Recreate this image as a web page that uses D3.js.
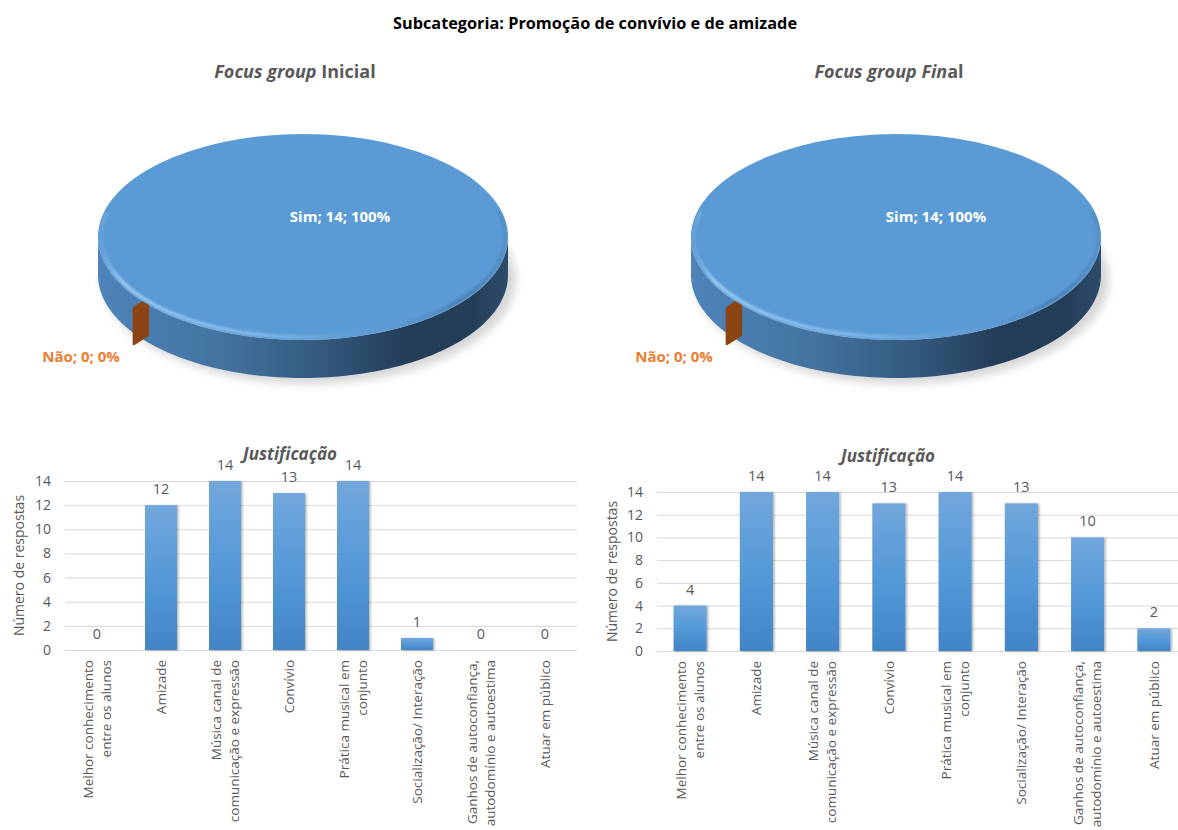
<!DOCTYPE html>
<html>
<head>
<meta charset="utf-8">
<script src="https://cdn.jsdelivr.net/npm/d3@7"></script>
<style>
  html, body { margin: 0; padding: 0; background: #fff; }
  svg { display: block; font-family: "Open Sans", "Liberation Sans", sans-serif; }
</style>
</head>
<body>
<svg id="chart" width="1178" height="830"></svg>
<script>
// ---- data ----
const mainTitle = "Subcategoria: Promoção de convívio e de amizade";
const pieLabels = ["Sim", "Não"];
const pieInicial = [14, 0];
const pieFinal = [14, 0];
const categories = [
  "Melhor conhecimento\nentre os alunos",
  "Amizade",
  "Música canal de\ncomunicação e expressão",
  "Convívio",
  "Prática musical em\nconjunto",
  "Socialização/ Interação",
  "Ganhos de autoconfiança,\nautodomínio e autoestima",
  "Atuar em público"
];
const valuesInicial = [0, 12, 14, 13, 14, 1, 0, 0];
const valuesFinal = [4, 14, 14, 13, 14, 13, 10, 2];
const yTicks = [0, 2, 4, 6, 8, 10, 12, 14];
const barTitle = "Justificação";
const yTitle = "Número de respostas";

// ---- setup ----
const svg = d3.select("#chart");
const defs = svg.append("defs");
const textGray = "#595959";
const pieColors = ["#5b9bd5", "#8b4513"];
const labelColors = ["#ffffff", "#ed7d31"];

// gradients & filters
const barGrad = defs.append("linearGradient").attr("id", "barGrad")
  .attr("x1", 0).attr("y1", 0).attr("x2", 0).attr("y2", 1);
barGrad.append("stop").attr("offset", "0%").attr("stop-color", "#72a7dc");
barGrad.append("stop").attr("offset", "50%").attr("stop-color", "#5599d8");
barGrad.append("stop").attr("offset", "100%").attr("stop-color", "#4285c7");

const barShadow = defs.append("filter").attr("id", "barShadow")
  .attr("x", "-20%").attr("y", "-10%").attr("width", "150%").attr("height", "130%");
barShadow.append("feDropShadow").attr("dx", 1.5).attr("dy", 0.5).attr("stdDeviation", 1)
  .attr("flood-color", "#000").attr("flood-opacity", 0.3);

const pieShadow = defs.append("filter").attr("id", "pieShadow")
  .attr("x", "-20%").attr("y", "-40%").attr("width", "140%").attr("height", "180%");
pieShadow.append("feGaussianBlur").attr("stdDeviation", 5);

const bevelBlur = defs.append("filter").attr("id", "bevelBlur")
  .attr("x", "-10%").attr("y", "-10%").attr("width", "120%").attr("height", "120%");
bevelBlur.append("feGaussianBlur").attr("stdDeviation", 1);

// main title
svg.append("text")
  .attr("x", 595).attr("y", 29)
  .attr("text-anchor", "middle")
  .attr("font-size", 16.3).attr("font-weight", 700).attr("fill", "#000")
  .text(mainTitle);

// ---- 3D pie ----
function drawPie(cfg) {
  const { cx, cy, rx, ry, depth, values, titleItalic, titleNormal, titleX, simLabel, naoLabel, id } = cfg;
  const g = svg.append("g");

  // title
  const t = g.append("text")
    .attr("x", titleX).attr("y", 78)
    .attr("text-anchor", "middle")
    .attr("font-size", 18).attr("font-weight", 700).attr("fill", textGray);
  t.append("tspan").attr("font-style", "italic").text(titleItalic);
  t.append("tspan").text(titleNormal);

  // pie angles: the zero slice sits on the lower-left rim
  const cut = 4.03;
  const pie = d3.pie().sort(null).value(d => d)
    .startAngle(cut - 2 * Math.PI).endAngle(cut);
  const arcs = pie(values);

  const px = a => cx + rx * Math.sin(a);
  const py = a => cy - ry * Math.cos(a);

  // side gradient
  const sg = defs.append("linearGradient").attr("id", "side" + id)
    .attr("gradientUnits", "userSpaceOnUse")
    .attr("x1", cx - rx).attr("y1", 0).attr("x2", cx + rx).attr("y2", 0);
  [["0%", "#4e84bb"], ["30%", "#43739f"], ["55%", "#33597f"], ["75%", "#233d56"], ["92%", "#243f58"], ["100%", "#2d4c6b"]]
    .forEach(([o, c]) => sg.append("stop").attr("offset", o).attr("stop-color", c));

  // soft shadow
  g.append("ellipse")
    .attr("cx", cx + 6).attr("cy", cy + depth + 4)
    .attr("rx", rx + 2).attr("ry", ry + 2)
    .attr("fill", "#000").attr("opacity", 0.16)
    .attr("filter", "url(#pieShadow)");

  // side walls (front half only: pie angles PI/2 .. 3PI/2)
  const frontA = Math.PI / 2, frontB = 3 * Math.PI / 2;
  arcs.forEach((d, i) => {
    [-2 * Math.PI, 0, 2 * Math.PI].forEach(shift => {
      const a0 = Math.max(d.startAngle + shift, frontA);
      const a1 = Math.min(d.endAngle + shift, frontB);
      if (a1 - a0 < 1e-4) return;
      const n = 80;
      const top = d3.range(n + 1).map(k => a0 + (a1 - a0) * k / n);
      const pts = top.map(a => [px(a), py(a)])
        .concat(top.slice().reverse().map(a => [px(a), py(a) + depth]));
      g.append("path")
        .attr("d", d3.line()(pts) + "Z")
        .attr("fill", i === 0 ? `url(#side${id})` : pieColors[i]);
    });
  });

  // exposed cut face at the zero slice
  const na = arcs[1].startAngle;
  const rxp = px(na) + 4, ryp = py(na) - 3;
  const face = [[rxp, ryp], [rxp - 14, ryp + 9], [rxp - 14, ryp + 9 + depth - 2], [rxp, ryp + depth - 2]];
  g.append("path")
    .attr("d", d3.line()(face) + "Z")
    .attr("fill", "#8b4513").attr("stroke", "#8b4513")
    .attr("stroke-width", 2.5).attr("stroke-linejoin", "round");

  // top face: circular arcs squashed into an ellipse
  const arc = d3.arc().innerRadius(0).outerRadius(rx);
  const topG = g.append("g").attr("transform", `translate(${cx},${cy}) scale(1,${ry / rx})`);
  topG.selectAll("path.top").data(arcs).join("path")
    .attr("class", "top")
    .attr("d", arc)
    .attr("fill", (d, i) => pieColors[i]);

  // bevel along the front rim of the top face
  const bg = defs.append("linearGradient").attr("id", "bevel" + id)
    .attr("gradientUnits", "userSpaceOnUse")
    .attr("x1", cx - rx).attr("y1", 0).attr("x2", cx + rx).attr("y2", 0);
  [["0%", "#a3d0f5", 0.0], ["6%", "#a3d0f5", 0.9], ["45%", "#86bcec", 0.75], ["72%", "#5e97cc", 0.3], ["88%", "#3f719f", 0.7], ["100%", "#3a6a98", 0.2]]
    .forEach(([o, c, op]) => bg.append("stop").attr("offset", o).attr("stop-color", c).attr("stop-opacity", op));
  const bevelAngles = d3.range(0, 121).map(k => Math.PI / 2 - 0.25 + (Math.PI + 0.5) * k / 120);
  g.append("path")
    .attr("d", d3.line()(bevelAngles.map(a => [cx + (rx - 3) * Math.sin(a), cy - (ry - 3) * Math.cos(a)])))
    .attr("fill", "none")
    .attr("stroke", `url(#bevel${id})`)
    .attr("stroke-width", 3.5)
    .attr("filter", "url(#bevelBlur)");

  // labels
  g.append("text")
    .attr("x", cx + simLabel[0]).attr("y", cy + simLabel[1])
    .attr("text-anchor", "middle")
    .attr("font-size", 15).attr("font-weight", 700).attr("fill", labelColors[0])
    .text(`${pieLabels[0]}; ${values[0]}; ${Math.round(100 * values[0] / d3.sum(values))}%`);
  g.append("text")
    .attr("x", cx + naoLabel[0]).attr("y", cy + naoLabel[1])
    .attr("text-anchor", "middle")
    .attr("font-size", 15).attr("font-weight", 700).attr("fill", labelColors[1])
    .text(`${pieLabels[1]}; ${values[1]}; ${Math.round(100 * values[1] / d3.sum(values))}%`);
}

drawPie({ id: "L", cx: 303, cy: 237, rx: 205, ry: 103, depth: 38, values: pieInicial,
  titleItalic: "Focus group ", titleNormal: "Inicial", titleX: 295,
  simLabel: [37, -15], naoLabel: [-222, 125] });
drawPie({ id: "R", cx: 896, cy: 237, rx: 205, ry: 103, depth: 38, values: pieFinal,
  titleItalic: "Focus group Fin", titleNormal: "al", titleX: 889,
  simLabel: [40, -15], naoLabel: [-222, 125] });

// ---- bar charts ----
function drawBars(cfg) {
  const { x0, x1, yTop, yBottom, values, titleX, titleY, yTitleX } = cfg;
  const g = svg.append("g");

  const x = d3.scaleBand().domain(categories).range([x0, x1])
    .paddingInner(0.5).paddingOuter(0.25);
  const y = d3.scaleLinear().domain([0, 14]).range([yBottom, yTop]);

  // gridlines + tick labels
  const yAxis = d3.axisLeft(y).tickValues(yTicks).tickSize(-(x1 - x0)).tickPadding(14);
  const ya = g.append("g").attr("transform", `translate(${x0},0)`).call(yAxis);
  ya.select(".domain").remove();
  ya.selectAll(".tick line").attr("stroke", "#d9d9d9").attr("stroke-width", 1);
  ya.selectAll(".tick text")
    .attr("fill", textGray).attr("font-size", 14)
    .attr("font-family", "Open Sans, sans-serif");

  // bars
  g.selectAll("rect.bar").data(values).join("rect")
    .attr("class", "bar")
    .attr("x", (d, i) => x(categories[i]))
    .attr("y", d => y(d))
    .attr("width", x.bandwidth())
    .attr("height", d => y(0) - y(d))
    .attr("fill", "url(#barGrad)")
    .attr("filter", d => d > 0 ? "url(#barShadow)" : null);

  // value labels
  g.selectAll("text.val").data(values).join("text")
    .attr("class", "val")
    .attr("x", (d, i) => x(categories[i]) + x.bandwidth() / 2)
    .attr("y", d => y(d) - 11)
    .attr("text-anchor", "middle")
    .attr("font-size", 14.5).attr("fill", textGray)
    .text(d => d);

  // category labels, rotated
  categories.forEach(c => {
    const lines = c.split("\n");
    const cxp = x(c) + x.bandwidth() / 2;
    lines.forEach((ln, j) => {
      const lx = cxp + (j - (lines.length - 1) / 2) * 18;
      g.append("text")
        .attr("transform", `translate(${lx},${yBottom + 10}) rotate(-90)`)
        .attr("dy", "0.35em")
        .attr("text-anchor", "end")
        .attr("font-size", 13.5).attr("fill", textGray)
        .text(ln);
    });
  });

  // chart title
  g.append("text")
    .attr("x", titleX).attr("y", titleY)
    .attr("text-anchor", "middle")
    .attr("font-size", 17).attr("font-weight", 700).attr("font-style", "italic")
    .attr("fill", textGray)
    .text(barTitle);

  // y axis title
  g.append("text")
    .attr("transform", `translate(${yTitleX},${(yTop + yBottom) / 2}) rotate(-90)`)
    .attr("dy", "0.35em")
    .attr("text-anchor", "middle")
    .attr("font-size", 14).attr("fill", textGray)
    .text(yTitle);
}

drawBars({ x0: 65, x1: 577, yTop: 481, yBottom: 650, values: valuesInicial,
  titleX: 290, titleY: 460, yTitleX: 19 });
drawBars({ x0: 657, x1: 1187, yTop: 492, yBottom: 651, values: valuesFinal,
  titleX: 888, titleY: 462, yTitleX: 612 });
</script>
</body>
</html>
